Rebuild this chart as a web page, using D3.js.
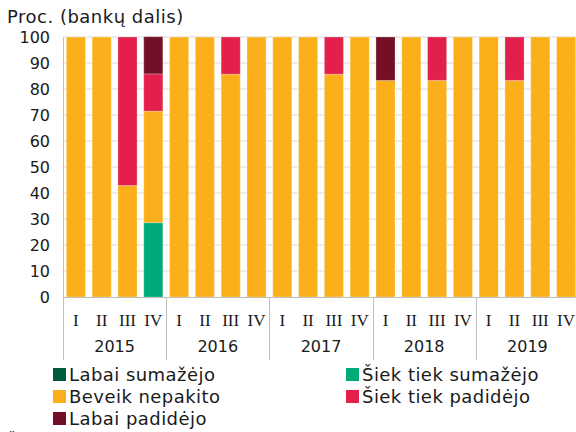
<!DOCTYPE html>
<html><head><meta charset="utf-8">
<script src="https://cdn.jsdelivr.net/npm/d3@7"></script>
<style>body{margin:0;background:#fff}svg{display:block}</style>
</head><body>
<svg id="c" width="576" height="432"></svg>
<script>
const years = ["2015","2016","2017","2018","2019"];
const quarters = ["I","II","III","IV"];
const seriesNames = ["Labai sumažėjo","Šiek tiek sumažėjo","Beveik nepakito","Šiek tiek padidėjo","Labai padidėjo"];
const seriesColors = ["#005a3c","#00ab79","#fbb01b","#e31f4b","#730f27"];
const labaiSumazejo   = [0,0,0,0,     0,0,0,0,     0,0,0,0,     0,0,0,0,     0,0,0,0];
const siekSumazejo    = [0,0,0,28.6,  0,0,0,0,     0,0,0,0,     0,0,0,0,     0,0,0,0];
const beveikNepakito  = [100,100,42.9,42.9, 100,100,85.7,100, 100,100,85.7,100, 83.3,100,83.3,100, 100,83.3,100,100];
const siekPadidejo    = [0,0,57.1,14.3, 0,0,14.3,0, 0,0,14.3,0, 0,0,16.7,0, 0,16.7,0,0];
const labaiPadidejo   = [0,0,0,14.3,  0,0,0,0,     0,0,0,0,     16.7,0,0,0,  0,0,0,0];
const yTicks = [0,10,20,30,40,50,60,70,80,90,100];

const seriesVals = [labaiSumazejo, siekSumazejo, beveikNepakito, siekPadidejo, labaiPadidejo];
const periods = [];
years.forEach(y => quarters.forEach(q => periods.push(y + "-" + q)));
const rows = periods.map((p, i) => {
  const r = {p};
  seriesNames.forEach((s, k) => r[s] = seriesVals[k][i]);
  return r;
});

const FONT = "DejaVu Sans, Verdana, sans-serif";
const svg = d3.select("#c");
const L = 63, R = 579, T = 37, B = 297;
const x = d3.scaleBand().domain(periods).range([L, R]).paddingInner(0.26).paddingOuter(0.13);
const y = d3.scaleLinear().domain([0, 100]).range([B, T]);

// gridlines
svg.append("g").selectAll("line").data(yTicks.filter(t => t > 0)).join("line")
  .attr("x1", L).attr("x2", R).attr("y1", d => y(d)).attr("y2", d => y(d))
  .attr("stroke", "#d9d9d9").attr("stroke-width", 1);

// bars
const stack = d3.stack().keys(seriesNames)(rows);
svg.append("g").selectAll("g").data(stack).join("g")
  .attr("fill", (d, i) => seriesColors[i])
  .selectAll("rect").data(d => d.filter(v => v[1] - v[0] > 0)).join("rect")
  .attr("x", d => x(d.data.p)).attr("width", x.bandwidth())
  .attr("y", d => y(d[1])).attr("height", d => y(d[0]) - y(d[1]))
  .attr("stroke", "rgba(255,255,255,0.25)").attr("stroke-width", 1);

// y axis
const yAxis = svg.append("g").attr("transform", `translate(${L},0)`)
  .call(d3.axisLeft(y).tickValues(yTicks).tickSize(0).tickPadding(13));
yAxis.select(".domain").remove();
yAxis.selectAll("text").attr("font-family", FONT).attr("font-size", 16).attr("fill", "#1a1a1a");

// axis lines
svg.append("line").attr("x1", L + 0.5).attr("x2", L + 0.5).attr("y1", T).attr("y2", 360).attr("stroke", "#bfbfbf");
svg.append("line").attr("x1", L).attr("x2", R).attr("y1", B + 0.5).attr("y2", B + 0.5).attr("stroke", "#bfbfbf");

// year separators
const yearStep = x.step() * 4;
years.forEach((yr, i) => {
  const xs = L + i * yearStep;
  if (i > 0) svg.append("line").attr("x1", Math.round(xs) + 0.5).attr("x2", Math.round(xs) + 0.5)
    .attr("y1", B).attr("y2", 360).attr("stroke", "#bfbfbf");
});
svg.append("line").attr("x1", R - 0.5).attr("x2", R - 0.5).attr("y1", B).attr("y2", 360).attr("stroke", "#bfbfbf");

// quarter labels
svg.append("g").selectAll("text").data(periods).join("text")
  .attr("x", d => x(d) + x.bandwidth() / 2).attr("y", 326)
  .attr("text-anchor", "middle").attr("font-family", "Liberation Serif, Times New Roman, serif")
  .attr("font-size", 17).attr("fill", "#1a1a1a")
  .text(d => d.split("-")[1]);

// year labels
svg.append("g").selectAll("text").data(years).join("text")
  .attr("x", (d, i) => L + (i + 0.5) * yearStep).attr("y", 352)
  .attr("text-anchor", "middle").attr("font-family", FONT)
  .attr("font-size", 16).attr("fill", "#1a1a1a").text(d => d);

// title
svg.append("text").attr("x", 7).attr("y", 23)
  .attr("font-family", FONT).attr("font-size", 18).attr("letter-spacing", 0.5).attr("fill", "#1a1a1a")
  .text("Proc. (bankų dalis)");

// legend
const legendPos = [[53, 381], [346, 381], [53, 403], [346, 403], [53, 425]];
const lg = svg.append("g");
seriesNames.forEach((name, k) => {
  const [lx, ly] = legendPos[k];
  lg.append("rect").attr("x", lx).attr("y", ly - 13).attr("width", 13).attr("height", 13).attr("fill", seriesColors[k]);
  lg.append("text").attr("x", lx + 16).attr("y", ly)
    .attr("font-family", FONT).attr("font-size", 18).attr("letter-spacing", 0.45).attr("fill", "#1a1a1a")
    .text(name);
});

// cut-off source note (only the top of it is visible in the reference)
svg.append("text").attr("x", 7).attr("y", 446)
  .attr("font-family", FONT).attr("font-size", 16).attr("fill", "#1a1a1a")
  .text("Šaltinis: Lietuvos bankas.");
</script>
</body></html>
